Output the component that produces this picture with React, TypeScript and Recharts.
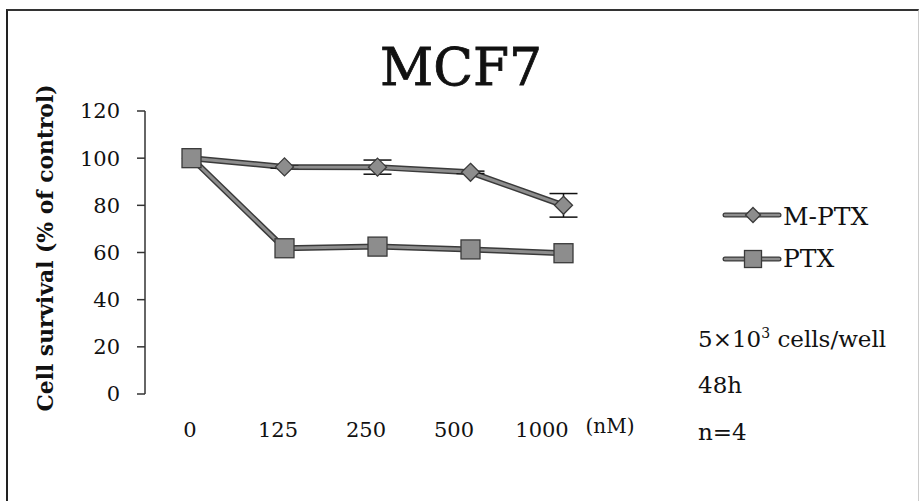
import React from 'react';
import { LineChart, Line, XAxis, YAxis, ErrorBar, Legend, Customized } from 'recharts';

const doses = ['0', '125', '250', '500', '1000'];
const mptxValues = [100, 96.3, 96.2, 94, 80];
const mptxErrors = [0, 0.5, 3, 0.5, 5];
const ptxValues = [100, 61.8, 62.5, 61.3, 59.7];
const yTicks = [0, 20, 40, 60, 80, 100, 120];

const title = 'MCF7';
const yLabel = 'Cell survival (% of control)';
const xUnit = '(nM)';
const notes = ['cells/well', '48h', 'n=4'];

const data = doses.map((d, i) => ({
  dose: d,
  mptx: mptxValues[i],
  mptxErr: mptxErrors[i],
  ptx: ptxValues[i],
}));

const FILL = '#8d8d8d';
const EDGE = '#3a3a3a';
const SERIF = '"DejaVu Serif", serif';

const Diamond = (props: any) => {
  const { cx, cy, r = 9 } = props;
  if (cx == null || cy == null) return <g key={props.key} />;
  return (
    <polygon
      key={props.key}
      points={`${cx},${cy - r} ${cx + r},${cy} ${cx},${cy + r} ${cx - r},${cy}`}
      fill={FILL}
      stroke={EDGE}
      strokeWidth={1.3}
    />
  );
};

const Square = (props: any) => {
  const { cx, cy, s = 19 } = props;
  if (cx == null || cy == null) return <g key={props.key} />;
  return (
    <rect key={props.key} x={cx - s / 2} y={cy - s / 2} width={s} height={s} fill={FILL} stroke={EDGE} strokeWidth={1.3} />
  );
};

const LegendContent = () => (
  <svg width={200} height={80} style={{ display: 'block' }}>
    <line x1={5} y1={20} x2={59} y2={20} stroke={EDGE} strokeWidth={5} strokeLinecap="round" />
    <line x1={5} y1={20} x2={59} y2={20} stroke={FILL} strokeWidth={2.5} strokeLinecap="round" />
    <Diamond cx={33} cy={20} r={7.5} />
    <text x={63} y={30} fontFamily={SERIF} fontSize={25} fill="#111">M-PTX</text>
    <line x1={5} y1={64} x2={59} y2={64} stroke={EDGE} strokeWidth={5} strokeLinecap="round" />
    <line x1={5} y1={64} x2={59} y2={64} stroke={FILL} strokeWidth={2.5} strokeLinecap="round" />
    <Square cx={33} cy={64} s={17} />
    <text x={63} y={72} fontFamily={SERIF} fontSize={25} fill="#111">PTX</text>
  </svg>
);

const Decorations = () => (
  <g>
    <text x={461} y={85} textAnchor="middle" fontFamily={SERIF} fontSize={52} fill="#111" stroke="#111" strokeWidth={0.8}>{title}</text>
    <text
      x={0}
      y={0}
      transform="translate(53,248) rotate(-90)"
      textAnchor="middle"
      fontFamily={SERIF}
      fontWeight="bold"
      fontSize={23}
      textLength={327}
      lengthAdjust="spacingAndGlyphs"
      fill="#111"
    >
      {yLabel}
    </text>
    <text x={610} y={433} textAnchor="middle" fontFamily={SERIF} fontSize={20} fill="#111">{xUnit}</text>
    <text x={698} y={347} fontFamily={SERIF} fontSize={23} fill="#111">
      5×10<tspan fontSize={14} dy={-9}>3</tspan>
      <tspan dy={9}> {notes[0]}</tspan>
    </text>
    <text x={698} y={393} fontFamily={SERIF} fontSize={23} fill="#111">{notes[1]}</text>
    <text x={698} y={440} fontFamily={SERIF} fontSize={23} fill="#111">{notes[2]}</text>
  </g>
);

export default function App() {
  return (
    <div style={{ position: 'absolute', left: 0, top: 0, width: 922, height: 501, background: '#fff', overflow: 'hidden' }}>
      <div
        style={{
          position: 'absolute',
          left: 6,
          top: 9,
          width: 913,
          height: 520,
          borderLeft: '2px solid #222',
          borderTop: '2px solid #333',
          borderRight: '1px solid #ccc',
          boxSizing: 'border-box',
        }}
      />
      <div style={{ position: 'absolute', left: 0, top: 0 }}>
        <LineChart width={922} height={501} data={data} margin={{ top: 111, right: 312, bottom: 67, left: 85 }}>
          <XAxis
            dataKey="dose"
            height={0}
            padding={{ left: 46.5, right: 46.5 }}
            tick={false}
            tickLine={false}
            axisLine={{ stroke: '#333', strokeWidth: 1.5 }}
            interval={0}
          />
          <XAxis
            xAxisId="labels"
            dataKey="dose"
            height={40}
            padding={{ left: 45, right: 68 }}
            tickLine={false}
            axisLine={false}
            tickSize={0}
            tickMargin={28}
            tick={{ fontFamily: SERIF, fontSize: 21, fill: '#111' }}
            interval={0}
          />
          <YAxis
            width={60}
            domain={[0, 120]}
            ticks={yTicks}
            interval={0}
            tickSize={8}
            tickMargin={17}
            axisLine={{ stroke: '#333', strokeWidth: 1.5 }}
            tickLine={{ stroke: '#333', strokeWidth: 1.5 }}
            tick={{ fontFamily: SERIF, fontSize: 21, fill: '#111' }}
          />
          <Legend
            layout="horizontal"
            verticalAlign="middle"
            align="center"
            width={200}
            content={LegendContent}
            wrapperStyle={{ left: 720, top: 195, width: 200, height: 80 }}
          />
          <Line dataKey="mptx" stroke={EDGE} strokeWidth={6} dot={false} activeDot={false} legendType="none" isAnimationActive={false} />
          <Line
            dataKey="mptx"
            name="M-PTX"
            stroke={FILL}
            strokeWidth={3}
            dot={(p: any) => <Diamond key={p.key ?? p.index} cx={p.cx} cy={p.cy} />}
            activeDot={false}
            isAnimationActive={false}
          >
            <ErrorBar dataKey="mptxErr" width={14} stroke="#111" strokeWidth={1.5} direction="y" />
          </Line>
          <Line dataKey="ptx" stroke={EDGE} strokeWidth={6} dot={false} activeDot={false} legendType="none" isAnimationActive={false} />
          <Line
            dataKey="ptx"
            name="PTX"
            stroke={FILL}
            strokeWidth={3}
            dot={(p: any) => <Square key={p.key ?? p.index} cx={p.cx} cy={p.cy} />}
            activeDot={false}
            isAnimationActive={false}
          />
          <Customized component={Decorations} />
        </LineChart>
      </div>
    </div>
  );
}
